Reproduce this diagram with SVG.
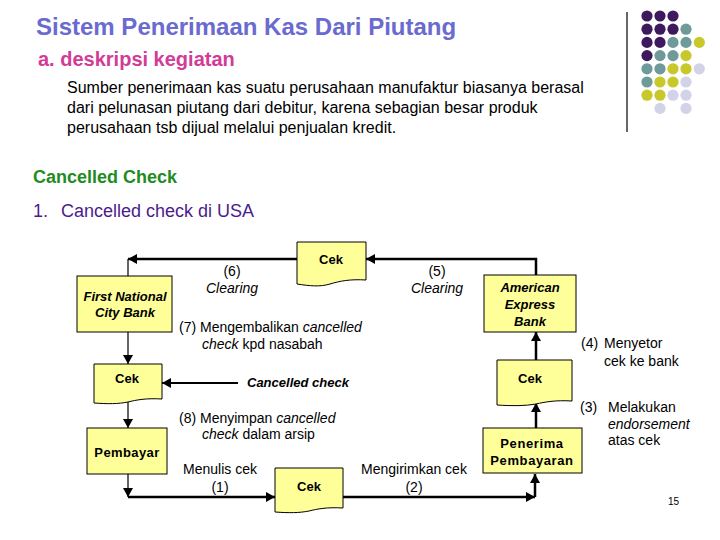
<svg xmlns="http://www.w3.org/2000/svg" width="720" height="540" viewBox="0 0 720 540">
<style>
text{font-family:"Liberation Sans",Arial,sans-serif;}
.box{fill:#ffff99;stroke:#000;stroke-width:1;}
.lbl{font-size:13px;font-weight:bold;text-anchor:middle;fill:#000;}
.lbi{font-size:13px;font-weight:bold;font-style:italic;text-anchor:middle;fill:#000;}
.t{font-size:14px;fill:#000;}
.tc{font-size:14px;fill:#000;text-anchor:middle;}
.it{font-style:italic;}
.c{fill:none;stroke:#000;}
.p{fill:#3d1a5e;}.g{fill:#6f9a9a;}.y{fill:#c8c82a;}.l{fill:#d2d2e8;}
</style>
<defs>
<marker id="ah" markerUnits="userSpaceOnUse" markerWidth="10" markerHeight="10" refX="9" refY="5" orient="auto">
<path d="M0,0 L9,5 L0,10 z" fill="#000"/>
</marker>
</defs>
<rect width="720" height="540" fill="#fff"/>
<g id="decor">
<line x1="627" y1="12" x2="627" y2="132" stroke="#000" stroke-width="1.2"/>
<circle class="p" cx="647" cy="16" r="5.6"/><circle class="p" cx="660" cy="16" r="5.6"/><circle class="p" cx="673" cy="16" r="5.6"/>
<circle class="p" cx="647" cy="29.2" r="5.6"/><circle class="p" cx="660" cy="29.2" r="5.6"/><circle class="p" cx="673" cy="29.2" r="5.6"/><circle class="g" cx="686" cy="29.2" r="5.6"/>
<circle class="p" cx="647" cy="42.4" r="5.6"/><circle class="p" cx="660" cy="42.4" r="5.6"/><circle class="g" cx="673" cy="42.4" r="5.6"/><circle class="g" cx="686" cy="42.4" r="5.6"/><circle class="y" cx="699.3" cy="42.4" r="5.6"/>
<circle class="p" cx="647" cy="55.6" r="5.6"/><circle class="g" cx="660" cy="55.6" r="5.6"/><circle class="g" cx="673" cy="55.6" r="5.6"/><circle class="y" cx="686" cy="55.6" r="5.6"/>
<circle class="g" cx="647" cy="68.8" r="5.6"/><circle class="g" cx="660" cy="68.8" r="5.6"/><circle class="y" cx="673" cy="68.8" r="5.6"/><circle class="y" cx="686" cy="68.8" r="5.6"/><circle class="l" cx="699.3" cy="68.8" r="5.6"/>
<circle class="g" cx="647" cy="82" r="5.6"/><circle class="y" cx="660" cy="82" r="5.6"/><circle class="y" cx="673" cy="82" r="5.6"/><circle class="l" cx="686" cy="82" r="5.6"/>
<circle class="y" cx="647" cy="95.2" r="5.6"/><circle class="y" cx="660" cy="95.2" r="5.6"/><circle class="l" cx="673" cy="95.2" r="5.6"/><circle class="l" cx="686" cy="95.2" r="5.6"/>
<circle class="l" cx="660" cy="108.4" r="5.6"/><circle class="l" cx="686" cy="108.4" r="5.6"/>
</g>
<g id="header">
<text x="36" y="35" font-size="24" font-weight="bold" fill="#6a6ad0">Sistem Penerimaan Kas Dari Piutang</text>
<text x="38" y="66" font-size="20" font-weight="bold" fill="#d23c96">a. deskripsi kegiatan</text>
<text x="67" y="93" font-size="16" fill="#000">Sumber penerimaan kas suatu perusahaan manufaktur biasanya berasal</text>
<text x="67" y="113" font-size="16" fill="#000">dari pelunasan piutang dari debitur, karena sebagian besar produk</text>
<text x="67" y="133" font-size="16" fill="#000">perusahaan tsb dijual melalui penjualan kredit.</text>
<text x="33" y="183" font-size="18" font-weight="bold" fill="#1f8c1f">Cancelled Check</text>
<text x="33" y="217" font-size="18" fill="#4b1c8c">1.</text>
<text x="61" y="217" font-size="18" fill="#4b1c8c">Cancelled check di USA</text>
</g>
<g id="connectors">
<path class="c" stroke-width="2.5" d="M536,275 V259 H366" marker-end="url(#ah)"/>
<path class="c" stroke-width="2.5" d="M297,259 H128" marker-end="url(#ah)"/>
<path class="c" stroke-width="1.2" d="M128,259 V276"/>
<path class="c" stroke-width="1.2" d="M128,332 V364" marker-end="url(#ah)"/>
<path class="c" stroke-width="2" d="M238,383 H162" marker-end="url(#ah)"/>
<path class="c" stroke-width="1.2" d="M128,401 V428" marker-end="url(#ah)"/>
<path class="c" stroke-width="1.2" d="M128,474 V497" marker-end="url(#ah)"/>
<path class="c" stroke-width="2.5" d="M128,497 H275" marker-end="url(#ah)"/>
<path class="c" stroke-width="2.5" d="M343,497 H535" marker-end="url(#ah)"/>
<path class="c" stroke-width="2.5" d="M535,497 V474" marker-end="url(#ah)"/>
<path class="c" stroke-width="2.5" d="M536,428 V403" marker-end="url(#ah)"/>
<path class="c" stroke-width="2.5" d="M536,360 V332" marker-end="url(#ah)"/>
</g>
<g id="n-fncb">
<rect class="box" x="77" y="276" width="95" height="56"/>
<text class="lbi" x="125" y="301">First National</text>
<text class="lbi" x="125" y="317">City Bank</text>
</g>
<g id="n-cek-top">
<path class="box" d="M297,242 H366 V280 C350,279 340,281 330,284 C320,287 310,286 297,284 Z"/>
<text class="lbl" x="331" y="264">Cek</text>
</g>
<g id="n-aeb">
<rect class="box" x="484" y="275" width="92" height="57"/>
<text class="lbi" x="530" y="292">American</text>
<text class="lbi" x="530" y="309">Express</text>
<text class="lbi" x="530" y="326">Bank</text>
</g>
<g id="n-cek-left">
<path class="box" d="M94,364 H162 V399 C146,398 136,400 128,402 C118,404 108,404 94,403 Z"/>
<text class="lbl" x="127" y="383">Cek</text>
</g>
<g id="n-cek-right">
<path class="box" d="M497,360 H572 V401 C555,400 545,402 536,404 C525,406 512,406 497,405 Z"/>
<text class="lbl" x="530" y="383">Cek</text>
</g>
<g id="n-pembayar">
<rect class="box" x="87" y="428" width="80" height="46"/>
<text class="lbl" x="127" y="457" letter-spacing="0.4">Pembayar</text>
</g>
<g id="n-cek-bottom">
<path class="box" d="M275,468 H343 V508 C327,507 317,509 309,511 C299,513 289,513 275,512 Z"/>
<text class="lbl" x="309" y="491">Cek</text>
</g>
<g id="n-penerima">
<rect class="box" x="483" y="428" width="99" height="45"/>
<text class="lbl" x="532" y="448" letter-spacing="0.6">Penerima</text>
<text class="lbl" x="532" y="465" letter-spacing="0.6">Pembayaran</text>
</g>
<g id="labels">
<text class="tc" x="232" y="276">(6)</text>
<text class="tc it" x="232" y="293">Clearing</text>
<text class="tc" x="437" y="276">(5)</text>
<text class="tc it" x="437" y="293">Clearing</text>
<text class="t" x="179" y="332">(7) Mengembalikan <tspan class="it">cancelled</tspan></text>
<text class="t" x="202" y="349"><tspan class="it">check</tspan> kpd nasabah</text>
<text class="t" x="581" y="348">(4)</text>
<text class="t" x="604" y="348">Menyetor</text>
<text class="t" x="604" y="366">cek ke bank</text>
<text x="247" y="387" font-size="13" font-weight="bold" font-style="italic" fill="#000">Cancelled check</text>
<text class="t" x="580" y="412">(3)</text>
<text class="t" x="608" y="412">Melakukan</text>
<text class="t it" x="608" y="429">endorsement</text>
<text class="t" x="608" y="445">atas cek</text>
<text class="t" x="179" y="423">(8) Menyimpan <tspan class="it">cancelled</tspan></text>
<text class="t" x="202" y="439"><tspan class="it">check</tspan> dalam arsip</text>
<text class="tc" x="220" y="474">Menulis cek</text>
<text class="tc" x="220" y="492">(1)</text>
<text class="tc" x="414" y="474">Mengirimkan cek</text>
<text class="tc" x="414" y="492">(2)</text>
<text x="668" y="505" font-size="10" fill="#000">15</text>
</g>
</svg>
